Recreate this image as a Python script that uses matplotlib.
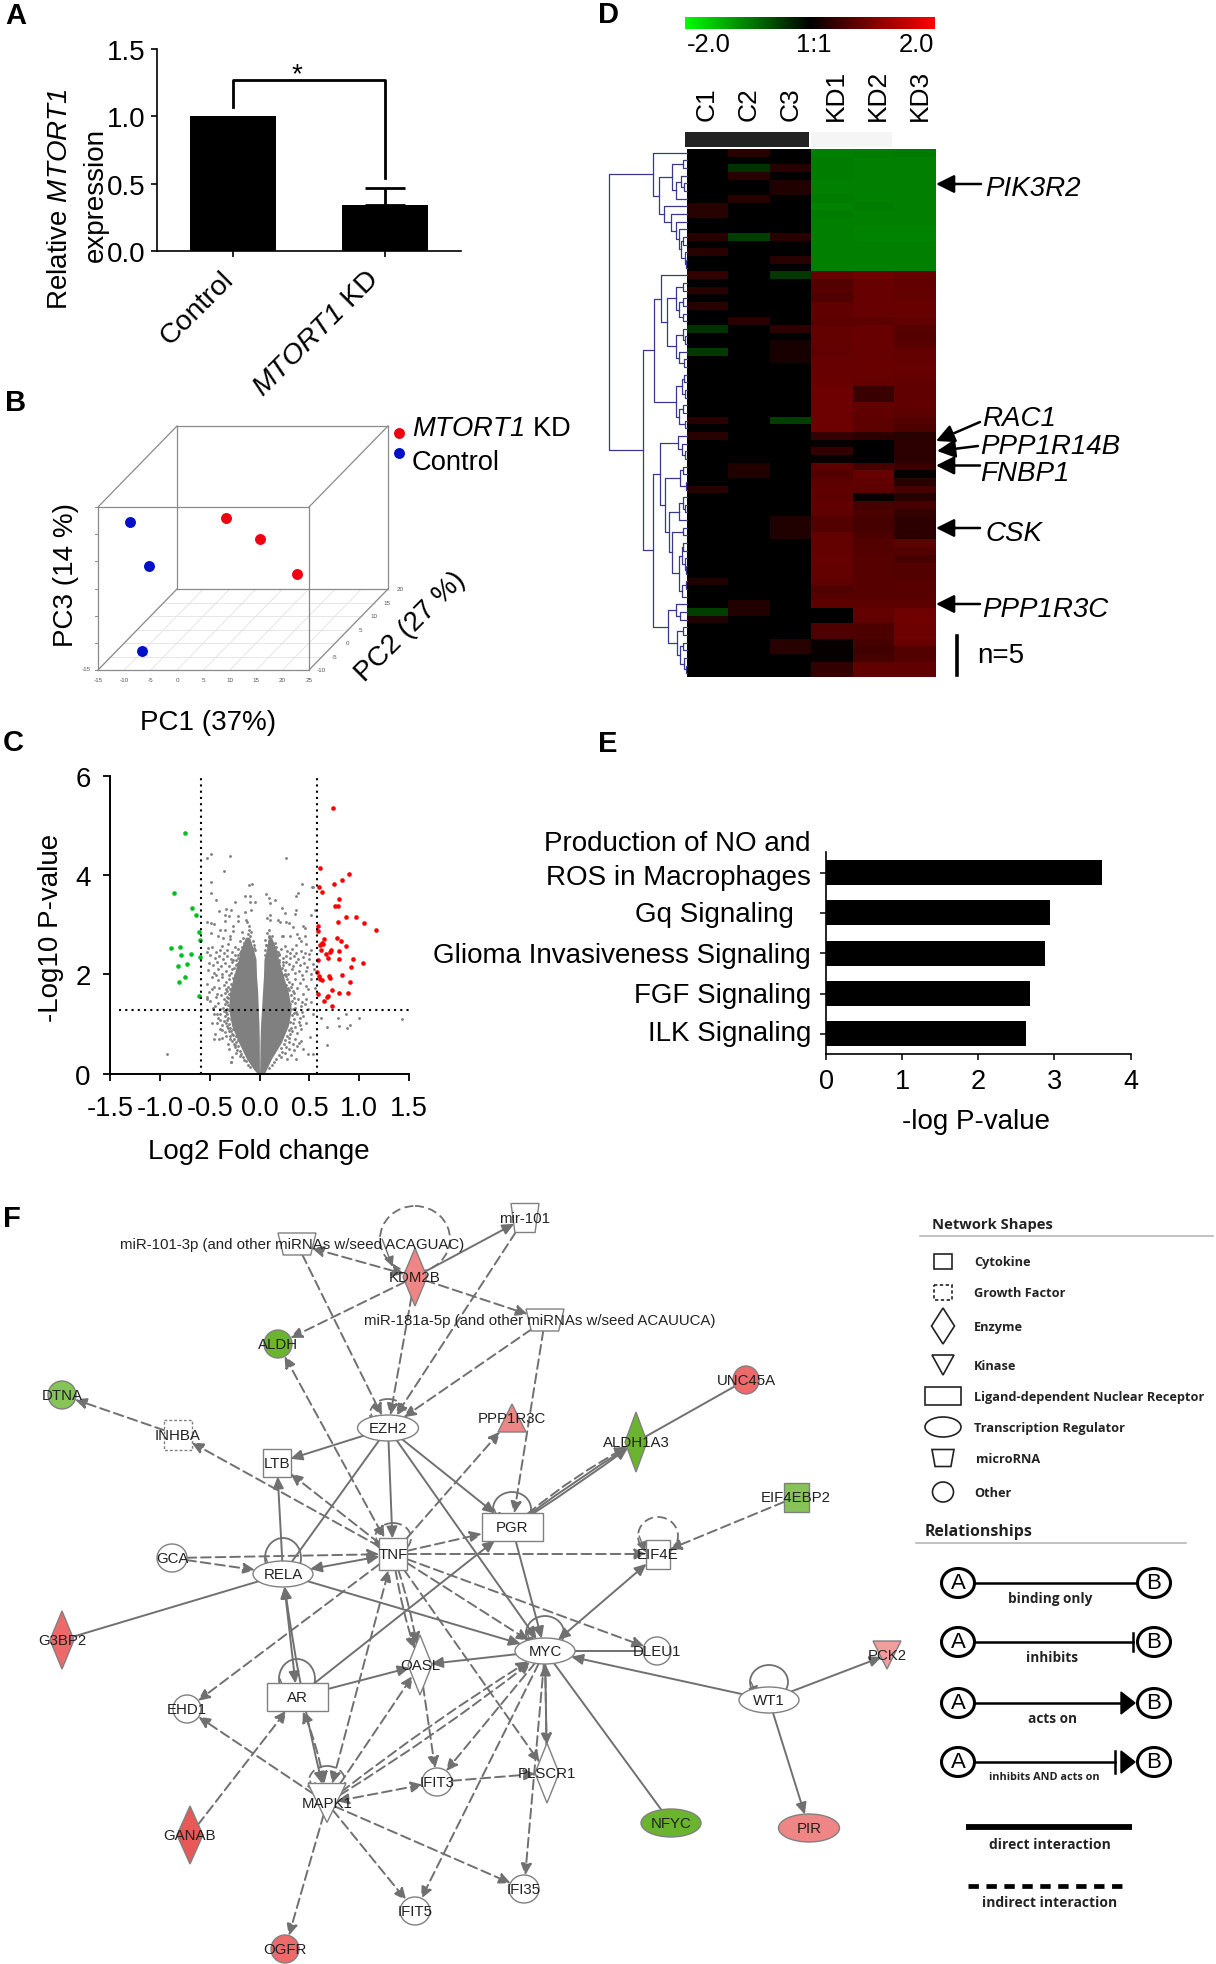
import matplotlib
matplotlib.use("Agg")
import matplotlib.pyplot as plt
import numpy as np
from matplotlib.colors import LinearSegmentedColormap, Normalize
from matplotlib.cm import ScalarMappable
from matplotlib.patches import Ellipse, Rectangle, Polygon, FancyArrowPatch
from matplotlib.transforms import ScaledTranslation

plt.rcParams['font.family'] = ['Liberation Sans', 'DejaVu Sans']
plt.rcParams['mathtext.fontset'] = 'custom'
plt.rcParams['mathtext.rm'] = 'Liberation Sans'
plt.rcParams['mathtext.cal'] = 'Liberation Sans:italic'
plt.rcParams['axes.unicode_minus'] = False

# panel A
a_groups = ['Control', r'$\mathcal{MTORT1}$ KD']
a_values = [1.0, 0.34]
a_err = [0.0, 0.13]

# panel B
pc1_red = [0.3, 8.3, 16.2]
pc2_red = [8, 5, 3]
pc3_red = [4.0, 1.7, -3.7]
pc1_blue = [-10.9, -8.8, -9.1]
pc2_blue = [-6, -3, -5]
pc3_blue = [10.3, 0.6, -13.9]
pc1_ticks = [-15, -10, -5, 0, 5, 10, 15, 20, 25]
pc2_ticks = [-10, -5, 0, 5, 10, 15, 20]
pc3_ticks = [-15, -10, -5, 0, 5, 10, 15]

# panel C
red_x = [.735, .611, .902, .825, .752, .601, .624, .799, .762, .785, .872, .966, 1.05, .785, .584, .591, 1.17,
         .775, .645, .628, .822, .641, .611, .866, .614, .665, .715, .708, .795, .691, .584, .802, .936, 1.036,
         .919, .581, .601, .701, .705, .608, .631, .829, .906, .725, .584, .795, .889, .685, .675, .651, .725]
red_y = [5.35, 4.15, 4.03, 3.90, 3.82, 3.76, 3.66, 3.52, 3.37, 3.37, 3.16, 3.15, 3.03, 3.06, 2.98, 2.88, 2.89,
         2.74, 2.72, 2.64, 2.67, 2.61, 2.59, 2.58, 2.49, 2.42, 2.50, 2.46, 2.48, 2.32, 2.28, 2.30, 2.30, 2.22,
         2.15, 2.05, 1.97, 1.97, 1.93, 1.91, 1.89, 1.98, 1.84, 1.68, 1.61, 1.62, 1.63, 1.57, 1.55, 1.46, 1.36]
green_x = [-.745, -.853, -.675, -.638, -.611, -.598, -.892, -.799, -.789, -.691, -.594, -.728, -.815, -.748, -.812, -.604]
green_y = [4.85, 3.64, 3.34, 3.19, 2.86, 2.70, 2.54, 2.55, 2.40, 2.42, 2.34, 2.21, 2.17, 1.95, 1.85, 1.56]
gray_pts = [(-.49, 4.42), (-.53, 4.35), (-.30, 4.39), (.27, 4.35), (-.36, 4.09), (-.49, 3.85), (-.075, 3.82),
            (-.105, 3.79), (.43, 3.82), (-.49, 3.64), (.07, 3.62), (.39, 3.63), (.53, 3.75), (.37, 3.57), (-.44, 3.50),
            (-.25, 3.46), (-.146, 3.58), (-.095, 3.58), (.095, 3.53), (.16, 3.50), (-.095, 3.46), (-.045, 3.46),
            (.11, 3.44), (-.41, 3.27), (-.34, 3.32), (-.29, 3.29), (.23, 3.33), (.37, 3.30), (.56, 3.30), (.26, 3.23),
            (.36, 3.21), (.52, 3.19), (-.085, 3.30), (-.146, 3.25), (-.31, 3.17), (-.35, 3.19), (-.22, 3.17),
            (.105, 3.19), (.08, 3.13), (-.35, 3.08), (-.49, 3.03), (-.53, 3.05), (-.22, 3.08), (-.135, 3.09),
            (.19, 3.09), (.27, 3.06), (.21, 3.06), (.30, 3.03), (.105, 3.09), (-.46, 3.01), (-.27, 2.97), (-.35, 2.90),
            (-.40, 2.90), (-.13, 3.05), (-.11, 2.97), (.34, 2.95), (.44, 2.97), (.46, 2.94), (.38, 2.81), (-.49, 2.83),
            (-.27, 2.88), (-.30, 2.78), (-.42, 2.78), (-.37, 2.74), (-.18, 2.85), (.095, 2.90), (.23, 2.78), (.31, 2.78),
            (-.11, 2.90), (-.17, 2.74), (.095, 2.78), (-.30, 2.71), (.40, 2.74), (.46, 2.78), (.42, 2.68), (-.48, 2.56),
            (-.52, 2.54), (-.38, 2.58), (-.32, 2.61), (-.20, 2.68), (.10, 2.68), (.24, 2.78), (.26, 2.58), (.16, 2.64),
            (.17, 2.56), (.47, 2.61), (.37, 2.59), (.52, 2.49), (-.53, 2.46), (-.40, 2.49), (-.25, 2.56), (-.15, 2.58),
            (-.095, 2.58), (.07, 2.59), (.105, 2.47), (.31, 2.44), (.37, 2.44), (.50, 2.41), (-.44, 2.45), (-.36, 2.44),
            (-.33, 2.50), (-.28, 2.45), (-.22, 2.52), (-.19, 2.47), (-.13, 2.48), (-.08, 2.47), (-.06, 2.54), (.06, 2.50),
            (.09, 2.55), (.14, 2.50), (.19, 2.46), (.22, 2.52), (.28, 2.47), (.33, 2.52), (.42, 2.47), (.46, 2.43),
            (-.50, 2.38), (-.45, 2.33), (-.41, 2.37), (-.37, 2.30), (-.33, 2.36), (-.29, 2.31), (-.25, 2.38), (-.22, 2.33),
            (-.18, 2.37), (-.14, 2.40), (-.11, 2.36), (-.07, 2.42), (.06, 2.40), (.09, 2.35), (.13, 2.39), (.16, 2.34),
            (.2, 2.39), (.24, 2.32), (.27, 2.37), (.31, 2.32), (.35, 2.36), (.39, 2.31), (.44, 2.34), (.5, 2.30),
            (-.51, 2.22), (-.47, 2.18), (-.43, 2.24), (-.39, 2.16), (-.35, 2.22), (-.31, 2.17), (-.28, 2.24), (-.24, 2.19),
            (-.21, 2.25), (.2, 2.24), (.24, 2.18), (.27, 2.25), (.3, 2.2), (.34, 2.16), (.37, 2.24), (.41, 2.18),
            (.45, 2.23), (.48, 2.15), (.54, 2.2), (-.52, 2.08), (-.46, 2.02), (-.42, 2.1), (-.38, 2.0), (-.34, 2.07),
            (-.31, 1.99), (-.28, 2.1), (.26, 2.08), (.29, 2.0), (.33, 2.1), (.36, 2.02), (.4, 2.07), (.43, 1.98),
            (.47, 2.06), (.52, 2.0), (.55, 2.1), (-.53, 1.81), (-.51, 1.64), (-.48, 1.94), (-.46, 1.74), (-.53, 1.54),
            (-.50, 1.47), (-.45, 1.37), (-.46, 1.20), (-.48, 1.03), (-.40, .90), (-.45, .80), (-.46, .70), (-.41, .70),
            (-.31, .50), (-.25, .53), (-.28, .33), (-.29, .23), (-.40, 1.2), (-.36, 1.07), (-.35, .83), (-.42, 1.88),
            (-.38, 1.95), (-.34, 1.85), (-.41, 1.72), (-.36, 1.78), (-.33, 1.66), (-.39, 1.58), (-.36, 1.5), (-.33, 1.44),
            (-.42, 1.42), (-.37, 1.33), (-.34, 1.24), (-.42, 1.12), (-.33, 1.08), (-.38, .98), (-.32, .92), (-.34, .76),
            (-.30, .7), (-.26, .6), (-.28, .8), (-.24, .42), (-.2, .35), (-.33, 1.55), (-.43, 1.6), (-.40, 1.3),
            (.52, 1.91), (.49, 1.70), (.47, 1.50), (.42, 1.37), (.49, 1.30), (.52, 1.44), (.44, 1.17), (.47, 1.03),
            (.42, .90), (.51, .73), (.42, .66), (.44, .50), (.49, .40), (.37, .30), (.54, .40), (.36, 1.9), (.41, 1.82),
            (.33, 1.8), (.38, 1.72), (.44, 1.6), (.35, 1.62), (.39, 1.5), (.36, 1.42), (.43, 1.25), (.38, 1.2), (.35, 1.1),
            (.4, 1.05), (.36, .95), (.38, .82), (.33, .85), (.3, .72), (.34, .6), (.38, .55), (.3, .5), (.26, .42),
            (.28, .3), (.56, 1.72), (.54, 1.2), (.79, 1.12), (.87, 1.20), (1.0, 1.13), (1.43, 1.10), (.68, .95),
            (.80, .97), (.91, .99), (.88, .93), (.68, .58), (-.93, .40), (-.29, .24), (.62, 1.13), (-.53, 1.5), (.54, 3.75),
            (-.24, 2.28), (-.26, 2.12), (-.23, 2.05), (-.29, 2.03), (-.27, 1.93), (-.31, 1.9), (-.29, 1.8), (-.32, 1.75),
            (-.3, 1.7), (-.34, 1.71), (-.31, 1.6), (-.35, 1.62), (-.32, 1.52), (-.34, 1.47), (-.32, 1.38), (-.35, 1.4),
            (-.33, 1.31), (-.36, 1.27), (-.33, 1.2), (-.35, 1.16), (-.32, 1.12), (-.34, 1.03), (-.31, 1.01), (-.33, .96),
            (-.3, .92), (-.31, .85), (-.29, .86), (-.27, .78), (-.3, .76), (-.26, .7), (-.28, .66), (-.24, .64),
            (-.25, .57), (-.22, .55), (-.23, .48), (-.2, .45), (-.19, .4), (-.17, .34), (-.16, .27), (-.14, .25),
            (-.12, .18), (-.1, .14), (-.22, .68), (-.24, .75), (-.27, .9), (-.29, 1.1), (-.31, 1.28), (-.28, 1.5),
            (-.27, 1.72), (-.25, 1.98), (-.23, 2.2), (-.27, 2.28), (-.2, 2.44), (-.22, 2.4), (-.18, 2.55), (-.16, 2.63),
            (-.14, 2.7), (-.1, 2.78), (-.12, 2.82), (-.09, 2.86), (-.13, 2.62), (-.07, 2.68), (-.06, 2.6), (-.05, 2.5),
            (-.17, 2.45), (-.15, 2.52), (.2, 2.28), (.23, 2.12), (.2, 2.16), (.26, 2.01), (.24, 1.98), (.28, 1.9),
            (.3, 1.84), (.27, 1.78), (.32, 1.74), (.3, 1.68), (.34, 1.66), (.32, 1.58), (.35, 1.52), (.33, 1.47),
            (.36, 1.33), (.34, 1.3), (.37, 1.25), (.33, 1.18), (.35, 1.22), (.34, 1.02), (.31, 1.05), (.32, .92),
            (.3, .88), (.31, .8), (.28, .76), (.3, .63), (.26, .68), (.25, .6), (.27, .53), (.22, .52), (.23, .44),
            (.2, .38), (.22, .33), (.17, .3), (.15, .24), (.13, .18), (.1, .12), (.25, .9), (.28, 1.1), (.31, 1.4),
            (.29, 1.72), (.27, 1.97), (.24, 2.24), (.16, 2.42), (.18, 2.37), (.14, 2.55), (.12, 2.65), (.1, 2.75),
            (.08, 2.84), (.13, 2.78), (.06, 2.7), (.07, 2.6), (.17, 2.48), (.2, 2.42), (.11, 2.5), (-.44, 1.98),
            (-.48, 1.7), (-.44, 1.55), (-.47, 1.33), (-.43, 1.2), (-.43, 1.02), (-.4, 1.08), (-.38, .88), (-.38, .72),
            (-.32, .6), (.44, 1.9), (.47, 1.76), (.43, 1.44), (.46, 1.4), (.41, 1.12), (.41, .98), (.36, .7), (.35, .47),
            (.4, .62), (.32, .38)]
# solid part of the cloud, too dense to read point by point
core_y = [2.75, 2.5, 2.31, 1.97, 1.64, 1.30, 0.97, 0.63, 0.30, 0.09, 0.0]
core_left_out = [-.14, -.19, -.21, -.26, -.30, -.31, -.28, -.21, -.13, -.06, -.02]
core_left_in = [-.10, -.06, -.035, -.03, -.018, -.012, -.005, -.002, -.001, -.001, -.001]
core_right_in = [.09, .07, .045, .04, .03, .02, .01, .005, .003, .001, .001]
core_right_out = [.12, .17, .19, .24, .29, .32, .29, .22, .12, .07, .05]

# panel D
samples = ['C1', 'C2', 'C3', 'KD1', 'KD2', 'KD3']
n_rows = 69
c1_nonzero = {7: .3, 8: .3, 11: .3, 13: .3, 16: .4, 18: .3, 20: .3, 23: -.4, 26: -.45, 35: .3, 37: .3, 44: .3,
              56: .25, 60: -.5, 61: .25}
c2_nonzero = {0: .3, 2: -.4, 3: .3, 6: .3, 11: -.5, 22: .3, 41: .25, 42: .25, 59: .25, 60: .25}
c3_nonzero = {2: .3, 4: .25, 5: .25, 11: .3, 14: .3, 16: -.45, 23: .35, 25: .2, 26: .2, 27: .2, 35: -.5,
              48: .25, 49: .25, 50: .25, 64: .3, 65: .3}
kd1 = [-1, -.98, -.98, -.98, -1, -1, -.98, -1.03, -.98, -1, -1, -1, -1, -1, -1, -1,
       .8, .65, .68, .62, .75, .75, .72, .78, .78, .78, .75, .8, .8,
       .8, .82, .85, .85, .85, .85, .85, .85,
       .42, .05, .4, .05,
       .72, .65, .72, .75, .72, .75, .75, .65, .65,
       .78, .78, .78, .8, .78, .78, .75, .62, .68, .72,
       0, 0, .62, .62, .05, .05, .05, .4, .4]
kd2 = [-.98, -1, -1, -1, -1, -1, -1, -.98, -1, -1, -1.02, -1.02, -1, -1, -1, -1,
       .85, .8, .8, .8, .8, .8, .72, .8, .8, .8, .8, .8, .82,
       .8, .78, .45, .45, .78, .75, .72, .72,
       .35, 0, 0, 0,
       .55, .8, .75, .72, .05, .55, .6, .55, .55,
       .6, .65, .65, .68, .68, .68, .68, .68, .68, .72,
       .78, .75, .6, .6, .55, .5, .55, .75, .75]
kd3 = [-.95, -1, -1, -1, -1, -1, -1, -1, -1, -1, -1.02, -1.02, -1, -1, -1, -1,
       .8, .75, .78, .78, .82, .8, .75, .68, .65, .68, .78, .78, .8,
       .78, .75, .75, .75, .75, .72, .65, .6,
       .3, .35, .35, .35,
       .45, .05, .3, .55, .3, .55, .4, .35, .35,
       .35, .72, .65, .55, .65, .65, .68, .68, .68, .72,
       .85, .88, .85, .85, .82, .65, .65, .75, .75]
# nested merges: (distance, left, right), a plain int is a row
tree_top = (.44, 0, (.36, (.20, (.06, 1, 2), (.14, (.085, 3, (.04, 4, 5)), 6)),
                     (.30, 7, (.21, 8, (.145, 9, (.10, 10, (.085, (.05, 11, 12), (.025, 13, (.017, 14, 15)))))))))
tree_mid = (.425, (.33, 16, (.255, (.14, (.06, 17, 18), (.10, (.05, 19, 20), (.06, 21, 22))),
                             (.14, (.06, 23, (.034, 24, 25)), (.10, 26, (.04, 27, 28))))),
            (.145, (.07, (.04, 29, 30), (.034, 31, 32)), (.10, (.05, 33, 34), (.034, 35, 36))))
tree_low = (.44, (.35, (.12, 37, (.07, 38, (.034, 39, 40))),
                  (.29, (.095, (.05, 41, 42), (.017, 43, 44)),
                   (.235, (.11, (.06, 45, (.034, 46, 47)), 48),
                    (.19, (.05, 49, 50), (.10, (.07, (.05, 51, 52), (.025, 53, (.017, 54, 55))),
                                          (.07, (.017, 56, 57), 58)))))),
            (.25, (.15, 59, (.095, 60, 61)), (.13, (.05, 62, 63), (.095, (.05, 64, 65), (.04, 66, (.017, 67, 68))))))
tree_root = (1.0, tree_top, (.56, tree_mid, tree_low))

# panel E
e_terms = ['Production of NO and\nROS in Macrophages', 'Gq Signaling', 'Glioma Invasiveness Signaling',
           'FGF Signaling', 'ILK Signaling']
e_values = [3.62, 2.94, 2.87, 2.685, 2.63]

# panel F: key, label, x, y, shape, w, h, colour
RED1, RED2, RED3 = '#F08585', '#EE6A6A', '#F59C9C'
GRN1, GRN2 = '#6BB52E', '#86C458'
nodes = [
    ('miR101', 'miR-101-3p (and other miRNAs w/seed ACAGUAC)', 297, 1245, 'trap', 38, 22, 'white'),
    ('KDM2B', 'KDM2B', 415, 1278, 'diamond', 24, 58, RED1),
    ('miR181', 'miR-181a-5p (and other miRNAs w/seed ACAUUCA)', 545, 1321, 'trap', 38, 22, 'white'),
    ('mir101', 'mir-101', 525, 1219, 'trap', 28, 29, 'white'),
    ('ALDH', 'ALDH', 278, 1345, 'ellipse', 28, 28, GRN1),
    ('DTNA', 'DTNA', 62, 1396, 'ellipse', 28, 28, GRN2),
    ('INHBA', 'INHBA', 178, 1436, 'drect', 28, 30, 'white'),
    ('LTB', 'LTB', 277, 1464, 'rect', 28, 28, 'white'),
    ('EZH2', 'EZH2', 388, 1429, 'ellipse', 61, 26, 'white'),
    ('PPP1R3C', 'PPP1R3C', 512, 1419, 'tri_up', 28, 28, RED1),
    ('ALDH1A3', 'ALDH1A3', 636, 1443, 'diamond', 22, 60, GRN1),
    ('UNC45A', 'UNC45A', 746, 1381, 'ellipse', 26, 28, RED2),
    ('EIF4EBP2', 'EIF4EBP2', 796, 1498, 'rect', 25, 29, GRN2),
    ('PGR', 'PGR', 512, 1528, 'rect', 61, 28, 'white'),
    ('EIF4E', 'EIF4E', 658, 1555, 'rect', 24, 29, 'white'),
    ('TNF', 'TNF', 393, 1555, 'rect', 28, 32, 'white'),
    ('GCA', 'GCA', 172, 1559, 'ellipse', 30, 28, 'white'),
    ('RELA', 'RELA', 283, 1575, 'ellipse', 60, 26, 'white'),
    ('G3BP2', 'G3BP2', 62, 1641, 'diamond', 24, 58, RED2),
    ('AR', 'AR', 297, 1698, 'rect', 61, 28, 'white'),
    ('OASL', 'OASL', 420, 1666, 'diamond', 24, 60, 'white'),
    ('MYC', 'MYC', 545, 1652, 'ellipse', 60, 26, 'white'),
    ('DLEU1', 'DLEU1', 657, 1652, 'ellipse', 28, 28, 'white'),
    ('WT1', 'WT1', 769, 1701, 'ellipse', 60, 26, 'white'),
    ('PCK2', 'PCK2', 887, 1656, 'tri_down', 28, 28, RED3),
    ('EHD1', 'EHD1', 187, 1710, 'ellipse', 28, 28, 'white'),
    ('MAPK1', 'MAPK1', 327, 1804, 'tri_down', 38, 39, 'white'),
    ('IFIT3', 'IFIT3', 437, 1783, 'ellipse', 30, 28, 'white'),
    ('PLSCR1', 'PLSCR1', 547, 1774, 'diamond', 24, 60, 'white'),
    ('NFYC', 'NFYC', 671, 1824, 'ellipse', 60, 28, GRN1),
    ('PIR', 'PIR', 809, 1829, 'ellipse', 61, 28, RED1),
    ('GANAB', 'GANAB', 190, 1836, 'diamond', 26, 58, '#E85858'),
    ('IFI35', 'IFI35', 524, 1890, 'ellipse', 30, 28, 'white'),
    ('IFIT5', 'IFIT5', 415, 1912, 'ellipse', 30, 28, 'white'),
    ('OGFR', 'OGFR', 285, 1950, 'ellipse', 28, 28, RED2),
]
direct_edges = [('KDM2B', 'mir101', '-|>', 0), ('EZH2', 'LTB', '-|>', 0), ('RELA', 'LTB', '-|>', 0), ('EZH2', 'TNF', '-|>', 0),
                ('EZH2', 'RELA', '-', 0), ('EZH2', 'PGR', '-|>', 0), ('EZH2', 'MYC', '-|>', 0), ('PGR', 'ALDH1A3', '-|>', 0.02),
                ('PGR', 'ALDH1A3', '-|>', -0.02), ('ALDH1A3', 'UNC45A', '-', 0), ('PGR', 'MYC', '-|>', 0),
                ('EIF4E', 'MYC', '<|-|>', 0), ('RELA', 'TNF', '<|-|>', 0), ('RELA', 'G3BP2', '-', 0), ('RELA', 'MYC', '-|>', 0),
                ('RELA', 'AR', '<|-|>', 0), ('RELA', 'MAPK1', '<|-|>', 0.03), ('AR', 'PGR', '-|>', 0), ('AR', 'OASL', '-|>', 0),
                ('MYC', 'OASL', '-|>', 0), ('PLSCR1', 'MYC', '-|>', 0), ('MYC', 'DLEU1', '-', 0), ('WT1', 'MYC', '-|>', 0),
                ('WT1', 'PCK2', '-|>', 0), ('WT1', 'PIR', '-|>', 0), ('NFYC', 'MYC', '-', 0)]
indirect_edges = [('miR101', 'KDM2B', '<|-|>', 0), ('KDM2B', 'ALDH', '-|>', 0), ('KDM2B', 'EZH2', '-|>', 0), ('KDM2B', 'miR181', '-|>', 0),
                  ('miR101', 'EZH2', '-|>', 0), ('mir101', 'EZH2', '-|>', 0), ('miR181', 'EZH2', '-|>', 0), ('miR181', 'PGR', '-|>', 0),
                  ('ALDH', 'TNF', '<|-|>', 0), ('INHBA', 'DTNA', '-|>', 0), ('TNF', 'INHBA', '-|>', 0), ('TNF', 'LTB', '-|>', 0),
                  ('TNF', 'PPP1R3C', '-|>', 0), ('TNF', 'PGR', '-|>', 0), ('TNF', 'EIF4E', '-|>', 0), ('TNF', 'MYC', '-|>', 0),
                  ('TNF', 'DLEU1', '-|>', 0), ('TNF', 'PLSCR1', '-|>', 0), ('TNF', 'OASL', '-|>', 0.05), ('TNF', 'OASL', '-|>', -0.05),
                  ('PGR', 'ALDH1A3', '-|>', -0.06), ('EIF4EBP2', 'EIF4E', '-|>', 0), ('GCA', 'TNF', '-|>', 0), ('GCA', 'RELA', '-|>', 0),
                  ('TNF', 'EHD1', '-|>', 0), ('MAPK1', 'EHD1', '-|>', 0), ('GANAB', 'AR', '-|>', 0), ('MAPK1', 'TNF', '<|-|>', 0),
                  ('MAPK1', 'OASL', '-|>', 0), ('MAPK1', 'OGFR', '-|>', 0), ('MAPK1', 'IFIT5', '-|>', 0), ('MAPK1', 'IFI35', '-|>', 0),
                  ('MAPK1', 'IFIT3', '<|-|>', 0), ('MAPK1', 'MYC', '-|>', 0.03), ('MAPK1', 'MYC', '-|>', -0.03), ('MAPK1', 'AR', '<|-|>', 0.08),
                  ('OASL', 'IFIT3', '-|>', 0), ('MYC', 'IFIT3', '-|>', 0), ('MYC', 'IFIT5', '-|>', 0), ('MYC', 'PLSCR1', '-|>', 0),
                  ('MYC', 'IFI35', '-|>', 0), ('IFIT3', 'PLSCR1', '-|>', 0)]
# node, loop width, loop height, centre above node, dashed
self_loops = [('KDM2B', 70, 66, 38, True), ('EZH2', 36, 30, 14, True), ('TNF', 36, 30, 16, True), ('RELA', 36, 40, 16, False),
              ('AR', 36, 40, 18, False), ('MAPK1', 36, 30, 22, True), ('PGR', 38, 34, 18, False), ('EIF4E', 40, 38, 18, True),
              ('MYC', 38, 34, 18, False), ('WT1', 38, 34, 18, False)]

legend_shapes = ['Cytokine', 'Growth Factor', 'Enzyme', 'Kinase', 'Ligand-dependent Nuclear Receptor',
                 'Transcription Regulator', 'microRNA', 'Other']
legend_kinds = ['rect', 'drect', 'diamond', 'tri_down', 'rect', 'ellipse', 'trap', 'ellipse']

W, H = 1216, 1965
fig = plt.figure(figsize=(W / 100, H / 100), dpi=100, facecolor='white')


def px_axes(l, t, r, b):
    return fig.add_axes([l / W, 1 - b / H, (r - l) / W, (b - t) / H])


ov = fig.add_axes([0, 0, 1, 1], zorder=5)
ov.set_xlim(0, W)
ov.set_ylim(H, 0)
ov.axis('off')
ov.patch.set_alpha(0)


def T(x, y, s, size=19.5, ha='center', va='center', **kw):
    return ov.text(x, y, s, fontsize=size, ha=ha, va=va, **kw)


def shape(kind, cx, cy, w, h, fc='white', ec='#808080', lw=1.0, z=3):
    if kind == 'ellipse':
        p = Ellipse((cx, cy), w, h, fc=fc, ec=ec, lw=lw, zorder=z)
    elif kind in ('rect', 'drect'):
        p = Rectangle((cx - w / 2, cy - h / 2), w, h, fc=fc, ec=ec, lw=lw, zorder=z,
                      ls=(0, (2, 1.5)) if kind == 'drect' else '-')
    elif kind == 'diamond':
        p = Polygon([(cx - w / 2, cy), (cx, cy - h / 2), (cx + w / 2, cy), (cx, cy + h / 2)], fc=fc, ec=ec, lw=lw, zorder=z)
    elif kind == 'tri_up':
        p = Polygon([(cx - w / 2, cy + h / 2), (cx, cy - h / 2), (cx + w / 2, cy + h / 2)], fc=fc, ec=ec, lw=lw, zorder=z)
    elif kind == 'tri_down':
        p = Polygon([(cx - w / 2, cy - h / 2), (cx + w / 2, cy - h / 2), (cx, cy + h / 2)], fc=fc, ec=ec, lw=lw, zorder=z)
    else:
        p = Polygon([(cx - w / 2, cy - h / 2), (cx + w / 2, cy - h / 2), (cx + w * .36, cy + h / 2), (cx - w * .36, cy + h / 2)],
                    fc=fc, ec=ec, lw=lw, zorder=z)
    ov.add_patch(p)
    return p


# panel letters
for letter, lx, ly in [('A', 5, 16), ('B', 5, 403), ('C', 3, 743), ('D', 598, 15), ('E', 598, 744), ('F', 3, 1219)]:
    T(lx, ly, letter, size=21, ha='left', fontweight='bold')

# A
ax = px_axes(157, 50, 461, 252)
ax.bar([0, 1], a_values, width=0.566, color='black')
ax.errorbar([1], a_values[1], yerr=[[0], [a_err[1]]], color='black', capsize=14.5, capthick=2, elinewidth=2)
ax.plot([0, 0, 1, 1], [1.07, 1.27, 1.27, 0.54], color='black', lw=2)
ax.text(0.42, 1.31, '*', ha='center', va='center', fontsize=20)
ax.set_xlim(-0.5, 1.5)
ax.set_ylim(0, 1.5)
ax.set_yticks([0, 0.5, 1.0, 1.5])
ax.set_yticklabels(['0.0', '0.5', '1.0', '1.5'], fontsize=20)
ax.set_xticks([0, 1])
ax.set_xticklabels(a_groups, rotation=45, ha='right', rotation_mode='anchor', fontsize=20.5)
ax.tick_params(axis='y', length=4.5, width=1.2, pad=4)
ax.tick_params(axis='x', length=4.5, width=1.2, pad=6)
for lab, dx in zip(ax.get_xticklabels(), [-13, -20]):
    lab.set_transform(lab.get_transform() + ScaledTranslation(dx / 100, 0, fig.dpi_scale_trans))
for s in ['top', 'right']:
    ax.spines[s].set_visible(False)
for s in ['left', 'bottom']:
    ax.spines[s].set_linewidth(1.2)
T(60, 199, r'Relative $\mathcal{MTORT1}$', size=20, rotation=90)
T(96, 195, 'expression', size=20, rotation=90)


# B
def project(pc1, pc2, pc3):
    return (98 + (pc1 + 15) * 5.275 + (pc2 + 10) * 2.633,
            671 - (pc3 + 15) * 5.433 - (pc2 + 10) * 2.7)


for v in pc1_ticks:
    p, q = project(v, -10, -15), project(v, 20, -15)
    ov.plot([p[0], q[0]], [p[1], q[1]], color='#e2e2e2', lw=0.6, zorder=1)
    lab = project(v, -10, -15)
    T(lab[0], lab[1] + 10, str(v), size=4.5, color='#555555')
for v in pc2_ticks:
    p, q = project(-15, v, -15), project(25, v, -15)
    ov.plot([p[0], q[0]], [p[1], q[1]], color='#e2e2e2', lw=0.6, zorder=1)
    T(q[0] + 12, q[1], str(v), size=4.5, color='#555555')
for v in pc3_ticks:
    p = project(-15, -10, v)
    ov.plot([p[0] - 3, p[0]], [p[1], p[1]], color='#888888', lw=0.7, zorder=1)
T(86, 670, '-15', size=4.5, color='#555555')
for a, b in [((-15, -10, -15), (25, -10, -15)), ((-15, -10, 15), (25, -10, 15)), ((-15, -10, -15), (-15, -10, 15)),
             ((25, -10, -15), (25, -10, 15)), ((-15, 20, -15), (25, 20, -15)), ((-15, 20, 15), (25, 20, 15)),
             ((-15, 20, -15), (-15, 20, 15)), ((25, 20, -15), (25, 20, 15)), ((-15, -10, -15), (-15, 20, -15)),
             ((25, -10, -15), (25, 20, -15)), ((-15, -10, 15), (-15, 20, 15)), ((25, -10, 15), (25, 20, 15))]:
    p, q = project(*a), project(*b)
    ov.plot([p[0], q[0]], [p[1], q[1]], color='#8a8a8a', lw=0.9, zorder=1)
rp = [project(a, b, c) for a, b, c in zip(pc1_red, pc2_red, pc3_red)]
bp = [project(a, b, c) for a, b, c in zip(pc1_blue, pc2_blue, pc3_blue)]
ov.scatter([p[0] for p in rp], [p[1] for p in rp], s=62, color='#f00010', lw=0, zorder=2)
ov.scatter([p[0] for p in bp], [p[1] for p in bp], s=62, color='#0010c8', lw=0, zorder=2)
ov.scatter([399], [434], s=62, color='#f00010', lw=0, zorder=2)
ov.scatter([399], [454], s=62, color='#0010c8', lw=0, zorder=2)
T(412, 429, r'$\mathcal{MTORT1}$ KD', size=19.7, ha='left')
T(412, 463, 'Control', size=19.7, ha='left')
T(208, 723, 'PC1 (37%)', size=20)
T(66, 575, 'PC3 (14 %)', size=20, rotation=90)
T(411, 627, 'PC2 (27 %)', size=20, rotation=45, rotation_mode='anchor')

# C
ax = px_axes(110, 776.7, 409, 1074.7)
gray = '#808080'
ax.fill_betweenx(core_y, core_left_out, core_left_in, color=gray, lw=0)
ax.fill_betweenx(core_y, core_right_in, core_right_out, color=gray, lw=0)
ax.scatter([p[0] for p in gray_pts], [p[1] for p in gray_pts], s=4.2, color=gray, lw=0)
ax.scatter(red_x, red_y, s=11, color='#ff0000', lw=0, zorder=3)
ax.scatter(green_x, green_y, s=11, color='#00c020', lw=0, zorder=3)
for xv in (-0.583, 0.572):
    ax.axvline(xv, color='black', lw=1.5, ls=(0, (1, 2)), zorder=4)
ax.axhline(1.29, xmin=0.03, color='black', lw=1.5, ls=(0, (1, 2)), zorder=4)
ax.set_xlim(-1.5, 1.5)
ax.set_ylim(0, 6)
ax.set_xticks([-1.5, -1, -0.5, 0, 0.5, 1, 1.5])
ax.set_xticklabels(['-1.5', '-1.0', '-0.5', '0.0', '0.5', '1.0', '1.5'], fontsize=19.5)
ax.set_yticks([0, 2, 4, 6])
ax.set_yticklabels(['0', '2', '4', '6'], fontsize=20)
ax.tick_params(axis='x', length=5, width=1.3, pad=10)
ax.tick_params(axis='y', length=5, width=1.3, pad=9)
for s in ['top', 'right']:
    ax.spines[s].set_visible(False)
for s in ['left', 'bottom']:
    ax.spines[s].set_linewidth(1.4)
T(51, 928, '-Log10 P-value', size=20, rotation=90)
T(259, 1152, 'Log2 Fold change', size=20)

# D
cmap = LinearSegmentedColormap.from_list('gbr', ['#00ff00', '#000000', '#ff0000'])
norm = Normalize(-2, 2)
heat = np.zeros((n_rows, 6))
for col, nz in enumerate([c1_nonzero, c2_nonzero, c3_nonzero]):
    for row, val in nz.items():
        heat[row, col] = val
heat[:, 3] = kd1
heat[:, 4] = kd2
heat[:, 5] = kd3
ax = px_axes(687.3, 150, 936, 678)
ax.imshow(heat, cmap=cmap, norm=norm, aspect='auto', interpolation='nearest')
ax.axis('off')

cax = px_axes(684.5, 18, 935, 30)
cb = fig.colorbar(ScalarMappable(norm=norm, cmap=cmap), cax=cax, orientation='horizontal')
cb.set_ticks([])
cb.outline.set_visible(False)
T(708.6, 45, '-2.0', size=18.4)
T(814, 45, '1:1', size=18.4)
T(916, 45, '2.0', size=18.4)
for name, sx in zip(samples, [707, 749, 791, 836, 878, 920]):
    T(sx, 121, name, size=19, rotation=90, va='bottom')
ov.add_patch(Rectangle((685, 133), 124, 15, fc='#232323', ec='none'))
ov.add_patch(Rectangle((811, 133), 81, 15, fc='#f5f5f5', ec='none'))

dax = px_axes(609, 150, 687.3, 678)
dax.set_xlim(1, 0)
dax.set_ylim(n_rows, 0)
dax.axis('off')


def draw_tree(node):
    if isinstance(node, int):
        return node + 0.5, 0.0
    d, left, right = node
    ya, da = draw_tree(left)
    yb, db = draw_tree(right)
    dax.plot([da, d, d, db], [ya, ya, yb, yb], color='#38388c', lw=0.9, clip_on=False)
    return (ya + yb) / 2, d


draw_tree(tree_root)

gene_labels = [('PIK3R2', 985, 189, 20, 981, 185, 936, 185), ('RAC1', 982, 419, 20, 980, 423, 936, 442),
               ('PPP1R14B', 980, 447.5, 20, 978, 447, 937, 452), ('FNBP1', 980, 474, 20, 980, 466.5, 936, 466.5),
               ('CSK', 985, 534, 20, 980, 529, 936, 529), ('PPP1R3C', 982, 610, 20, 980, 605, 936, 605)]
for name, tx, ty, fs, x0, y0, x1, y1 in gene_labels:
    T(tx, ty, name, size=fs, ha='left', style='italic')
    ov.add_patch(FancyArrowPatch((x0, y0), (x1, y1), arrowstyle='-|>,head_length=11,head_width=5.5', lw=1.8,
                                 color='black', shrinkA=0, shrinkB=0, zorder=4))
ov.plot([957, 957], [637, 676], color='black', lw=2.6)
T(977, 656, 'n=5', size=20, ha='left')

# E
ax = px_axes(826, 853, 1130.6, 1055)
ax.barh(range(5), e_values, height=0.62, color='black')
ax.set_xlim(0, 4)
ax.set_ylim(4.5, -0.51)
ax.set_xticks([0, 1, 2, 3, 4])
ax.set_xticklabels(['0', '1', '2', '3', '4'], fontsize=19.5)
ax.set_yticks(range(5))
ax.set_yticklabels([])
ax.tick_params(length=4, width=1.1, pad=6)
for s in ['top', 'right']:
    ax.spines[s].set_visible(False)
for s in ['left', 'bottom']:
    ax.spines[s].set_linewidth(1.2)
T(811, 844, e_terms[0].split('\n')[0], size=20, ha='right')
T(811, 878, e_terms[0].split('\n')[1], size=20, ha='right')
T(794, 915, e_terms[1], size=20, ha='right')
T(811, 956, e_terms[2], size=20, ha='right')
T(811, 996, e_terms[3], size=20, ha='right')
T(811, 1034, e_terms[4], size=20, ha='right')
T(976, 1122, '-log P-value', size=20)

# F
EDGE = '#707070'
patches = {}
for key, label, nx, ny, kind, w, h, col in nodes:
    patches[key] = shape(kind, nx, ny, w, h, fc=col)
    T(nx - 5 if kind == 'trap' and w == 38 else nx, ny, label, size=10.8, color='#222222', zorder=6)
centres = {n[0]: (n[2], n[3]) for n in nodes}
for edges, ls in [(direct_edges, '-'), (indirect_edges, (0, (5, 2.5)))]:
    for a, b, head, rad in edges:
        style = head if head == '-' else head + ',head_length=7,head_width=3.2'
        ov.add_patch(FancyArrowPatch(centres[a], centres[b], patchA=patches[a], patchB=patches[b], arrowstyle=style,
                                     connectionstyle='arc3,rad=%g' % rad, color=EDGE, lw=1.4, ls=ls, shrinkA=0, shrinkB=0,
                                     zorder=2))
for key, lw_, lh_, up, dashed in self_loops:
    nx, ny = centres[key]
    ov.add_patch(Ellipse((nx, ny - up), lw_, lh_, fc='none', ec=EDGE, lw=1.3, ls=(0, (5, 2.5)) if dashed else '-', zorder=1.5))
    ov.add_patch(FancyArrowPatch((nx - lw_ * .47, ny - up), (nx - lw_ * .32, ny - up + lh_ * .42),
                                 arrowstyle='-|>,head_length=6,head_width=3', color=EDGE, lw=1, shrinkA=0, shrinkB=0, zorder=2))

# F legend
LEG = dict(fontfamily='Open Sans', fontweight='bold', color='#222222')
T(932, 1225, 'Network Shapes', size=10.6, ha='left', **LEG)
ov.plot([920, 1213], [1237, 1237], color='#b0b0b0', lw=1.1)
leg_y = [1262, 1293, 1327, 1366, 1397, 1428, 1459, 1493]
leg_w = [18, 18, 23, 22, 36, 36, 22, 21]
leg_h = [15, 15, 36, 20, 18, 20, 17, 20]
for name, kind, ly, lw_, lh_ in zip(legend_shapes, legend_kinds, leg_y, leg_w, leg_h):
    shape(kind, 943, ly, lw_, lh_, ec='#222222', lw=1.2)
    T(976 if name == 'microRNA' else 974, ly + 1, name, size=9.2, ha='left', **LEG)
T(925, 1532, 'Relationships', size=11.4, ha='left', **LEG)
ov.plot([916, 1186], [1543.6, 1543.6], color='#b0b0b0', lw=1.1)
for ly, label, lx, fs, end in [(1584, 'binding only', 1050, 9.8, 1137), (1643, 'inhibits', 1052, 9.8, 1133),
                               (1704, 'acts on', 1052, 9.8, 1125), (1763, 'inhibits AND acts on', 1044, 7.8, 1115)]:
    ov.plot([975, end], [ly, ly], color='black', lw=1.8, zorder=2)
    for cx_, ltr in [(958, 'A'), (1154, 'B')]:
        ov.add_patch(Ellipse((cx_, ly), 33, 29, fc='white', ec='black', lw=2.2, zorder=3))
        T(cx_, ly, ltr, size=16, zorder=6)
    T(lx, ly + 15, label, size=fs, **LEG)
ov.plot([1133, 1133], [1634, 1652], color='black', lw=1.8)
for ly in (1704, 1763):
    ov.add_patch(Polygon([(1121, ly - 11), (1135, ly), (1121, ly + 11)], fc='black', ec='black', zorder=3))
ov.plot([1115, 1115], [1752, 1774], color='black', lw=1.8)
ov.plot([966, 1132], [1828, 1828], color='black', lw=4.2, solid_capstyle='butt')
T(1050, 1845, 'direct interaction', size=10, **LEG)
ov.plot([968, 1128], [1887, 1887], color='black', lw=3.4, ls=(0, (2.2, 1.6)))
T(1050, 1903, 'indirect interaction', size=10, **LEG)

fig.savefig('out.png', dpi=100)
